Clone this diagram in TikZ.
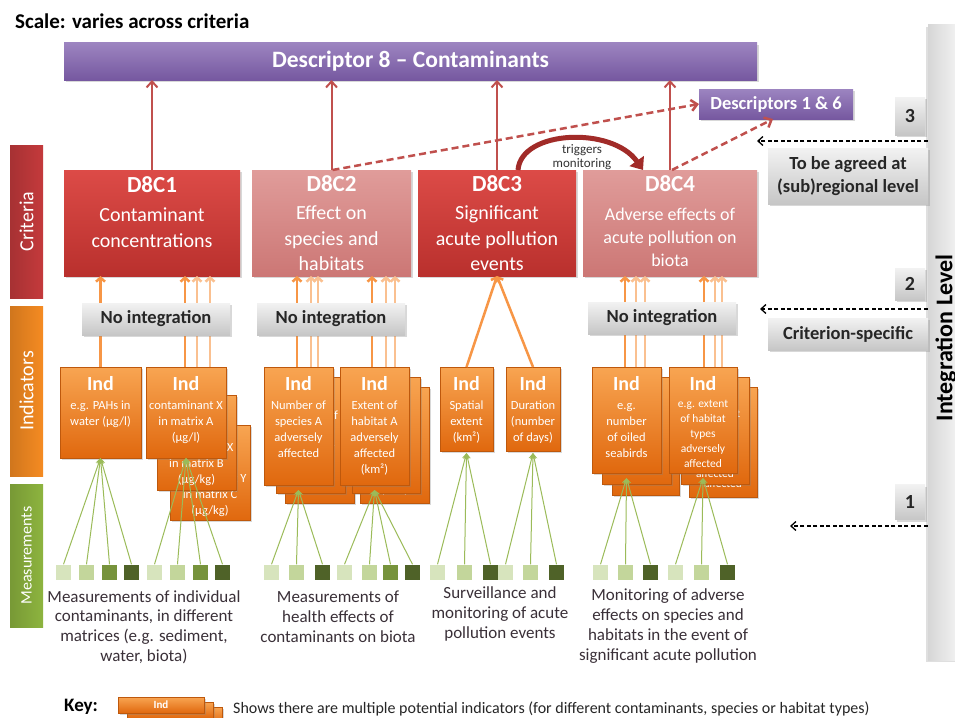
\documentclass[tikz,border=0pt]{standalone}
\usepackage{fontspec}
\setmainfont{Carlito}
\usetikzlibrary{arrows.meta,shadows,calc}
\definecolor{purpleT}{HTML}{9C84C0}
\definecolor{purpleB}{HTML}{7658A0}
\definecolor{redT}{HTML}{DC4B47}
\definecolor{redB}{HTML}{B9302D}
\definecolor{pinkT}{HTML}{E09C9A}
\definecolor{pinkB}{HTML}{CC7775}
\definecolor{orT}{HTML}{F8A552}
\definecolor{orB}{HTML}{E0680E}
\definecolor{grT}{HTML}{F2F2F2}
\definecolor{grB}{HTML}{C6C6C6}
\definecolor{arrRed}{HTML}{C0504D}
\definecolor{trigC}{HTML}{A12B28}
\definecolor{orLine}{HTML}{F79646}
\definecolor{orLight}{HTML}{FAC090}
\definecolor{gLine}{HTML}{9BBB59}
\definecolor{sqA}{HTML}{D7E4BD}
\definecolor{sqB}{HTML}{C3D69B}
\definecolor{sqC}{HTML}{77933C}
\definecolor{sqD}{HTML}{4F6228}
\definecolor{captC}{HTML}{3A3038}
\definecolor{barRed}{HTML}{C43A3C}
\definecolor{barOr}{HTML}{F58B22}
\definecolor{barGr}{HTML}{8DB43F}
\newcommand\critT{\bfseries\fontsize{23}{26}\selectfont}
\newcommand\indT{\bfseries\fontsize{20}{22}\selectfont}
\newcommand\backInd{{\indT\phantom{Ind}}}
% optional text options, name, x1, y1, x2, y2, text offset, text
\newcommand\IndBox[8][]{%
  \pgfmathsetmacro\indbw{#5-#3}%
  \pgfmathsetmacro\indbh{#6-#4}%
  \node[indbox, minimum width=\indbw pt, minimum height=\indbh pt, anchor=north west] (#2) at (#3,#4) {};
  \node[indtext, anchor=north, #1] (#2t) at ([yshift=-#7pt]#2.north) {#8};}
% style, from node, signed x offset, to node
\newcommand\UpArrow[4]{\draw[#1] let \p1=(#2.north), \p2=(#4.south) in (\x1#3pt,\y1) -- (\x1#3pt,\y2);}
\begin{document}
\begin{tikzpicture}[x=1pt,y=-1pt,
 box/.style={rectangle, inner sep=0pt, outer sep=0pt, drop shadow={shadow xshift=2pt, shadow yshift=-2pt, opacity=0.3}},
 purp/.style={box, top color=purpleT, bottom color=purpleB, text=white, font=\bfseries\fontsize{23.5}{26}\selectfont},
 critred/.style={box, top color=redT, bottom color=redB},
 critpink/.style={box, top color=pinkT, bottom color=pinkB},
 crittext/.style={text=white, align=center, inner sep=0pt, font=\fontsize{20}{25.5}\selectfont},
 graybox/.style={box, top color=grT, bottom color=grB, align=center, text=black!85, font=\bfseries\fontsize{18.5}{23}\selectfont},
 indbox/.style={box, top color=orT, bottom color=orB, draw=orB!85!black, line width=0.5pt},
 indtext/.style={text=white, align=center, inner sep=0pt, font=\fontsize{12.5}{16}\selectfont},
 sidebar/.style={rectangle, inner sep=0pt, outer sep=0pt},
 sidetext/.style={rotate=90, text=white, inner sep=0pt, font=\fontsize{20}{24}\selectfont},
 redarrow/.style={draw=arrRed, line width=2pt, -{Straight Barb[length=6pt,width=11pt]}},
 reddash/.style={redarrow, line width=2.5pt, dash pattern=on 7pt off 4pt},
 oarrow/.style={draw=orLine, line width=2.5pt, -{Straight Barb[length=4pt,width=9pt]}},
 olight/.style={oarrow, draw=orLight},
 garrow/.style={draw=gLine, line width=1pt, -{Stealth[length=6pt,width=6pt]}},
 levarrow/.style={draw=black, line width=1.3pt, dash pattern=on 4pt off 2.5pt, -{Straight Barb[length=5pt,width=9pt]}},
 msq/.style={rectangle, inner sep=0pt, minimum width=15pt, minimum height=15pt},
 capt/.style={text=captC, align=center, inner sep=0pt, font=\fontsize{17}{19.8}\selectfont}
]
\fill[white] (0,0) rectangle (955,717);
\useasboundingbox (0,0) rectangle (955,717);

\node[anchor=west, font=\bfseries\fontsize{21}{24}\selectfont, inner sep=0pt] (scale) at (15,21) {Scale: varies across criteria};

% integration level bar
\node[rectangle, inner sep=0pt, minimum width=32pt, minimum height=635pt, left color=gray!32, right color=gray!8, drop shadow={shadow xshift=-2pt, shadow yshift=-2pt, opacity=0.25}] (ilbar) at (944,342.5) {};
\node[rotate=90, font=\bfseries\fontsize{24}{28}\selectfont, inner sep=0pt] (iltext) at (946,338) {Integration Level};

% side bars
\node[sidebar, minimum width=33pt, minimum height=153pt, left color=barRed!85!black, right color=barRed] (sbC) at (26.5,221.5) {};
\node[sidetext] (sbCt) at (sbC) {Criteria};
\node[sidebar, minimum width=33pt, minimum height=170pt, left color=barOr!85!black, right color=barOr] (sbI) at (26.5,391) {};
\node[sidetext] (sbIt) at (sbI) {Indicators};
\node[sidebar, minimum width=33pt, minimum height=143pt, left color=barGr!85!black, right color=barGr] (sbM) at (26.5,555.5) {};
\node[sidetext, font=\fontsize{16}{18}\selectfont] (sbMt) at (sbM) {Measurements};

% descriptors
\node[purp, minimum width=693pt, minimum height=37pt] (d8) at (410.5,61.5) {Descriptor 8 – Contaminants};
\node[purp, minimum width=154pt, minimum height=30pt, font=\bfseries\fontsize{18.5}{22}\selectfont] (d16) at (776,104) {Descriptors 1 \& 6};

% criteria
\node[critred, minimum width=176pt, minimum height=106pt] (c1) at (152,223) {};
\node[crittext, anchor=north] (c1t) at ([yshift=-6pt]c1.north) {{\critT D8C1}\\[4pt]Contaminant\\concentrations};
\node[critpink, minimum width=159pt, minimum height=106pt] (c2) at (331.5,223) {};
\node[crittext, anchor=north] (c2t) at ([yshift=-5pt]c2.north) {{\critT D8C2}\\[3pt]Effect on\\species and\\habitats};
\node[critred, minimum width=158pt, minimum height=106pt] (c3) at (497,223) {};
\node[crittext, anchor=north] (c3t) at ([yshift=-5pt]c3.north) {{\critT D8C3}\\[3pt]Significant\\acute pollution\\events};
\node[critpink, minimum width=174pt, minimum height=106pt] (c4) at (670,223) {};
\node[crittext, anchor=north, font=\fontsize{18}{23}\selectfont] (c4t) at ([yshift=-5pt]c4.north) {{\critT D8C4}\\[6pt]Adverse effects of\\acute pollution on\\biota};

% criteria -> descriptors
\foreach \c in {c1,c2,c3,c4} \draw[redarrow] (\c.north) -- (\c.north |- d8.south);
\draw[reddash] ([xshift=1pt]c2.north) -- (d16.west);
\draw[reddash] ([xshift=2pt]c4.north) -- ([xshift=-3pt]d16.south);
\draw[trigC, line width=5pt, -{Triangle[length=11pt,width=17pt]}] ([xshift=21pt]c3.north) .. controls (521,130) and (612,126) .. ([xshift=-27pt]c4.north);
\node[font=\fontsize{13}{14}\selectfont, text=black!80, align=center, inner sep=0pt] (trigtext) at (582,157) {triggers\\monitoring};

% indicators
\IndBox{i1}{60}{367}{141}{458}{9}{{\indT Ind}\\[3pt]e.g. PAHs in\\water (µg/l)}
\IndBox{i2c}{170}{425}{250}{520}{24}{\backInd\\[3pt]contaminant Y\\in matrix C\\(µg/kg)}
\IndBox{i2b}{157}{395}{236}{490}{23}{\backInd\\[3pt]contaminant X\\in matrix B\\(µg/kg)}
\IndBox{i2}{146}{367}{226}{458}{9}{{\indT Ind}\\[3pt]contaminant X\\in matrix A\\(µg/l)}
\IndBox{i3c}{285}{387}{354}{503}{9}{\backInd\\[3pt]Number of\\species C\\adversely\\affected}
\IndBox{i3b}{276}{377}{345}{493}{9}{\backInd\\[3pt]Number of\\species B\\adversely\\affected}
\IndBox{i3}{264}{367}{333}{485}{9}{{\indT Ind}\\[3pt]Number of\\species A\\adversely\\affected}
\IndBox{i4c}{360}{387}{429}{503}{9}{\backInd\\[3pt]Extent of\\habitat C\\adversely\\affected\\(km²)}
\IndBox{i4b}{352}{377}{420}{493}{9}{\backInd\\[3pt]Extent of\\habitat B\\adversely\\affected\\(km²)}
\IndBox{i4}{340}{367}{409}{485}{9}{{\indT Ind}\\[3pt]Extent of\\habitat A\\adversely\\affected\\(km²)}
\IndBox{i5}{440}{367}{493}{451}{9}{{\indT Ind}\\[3pt]Spatial\\extent\\(km²)}
\IndBox{i6}{506}{367}{560}{451}{9}{{\indT Ind}\\[3pt]Duration\\(number\\of days)}
\IndBox{i7c}{612}{387}{679}{495}{9}{\backInd\\[3pt]e.g.\\number\\of oiled\\seabirds}
\IndBox{i7b}{602}{377}{671}{484}{9}{\backInd\\[3pt]e.g.\\number\\of oiled\\seabirds}
\IndBox{i7}{592}{367}{661}{473}{9}{{\indT Ind}\\[3pt]e.g.\\number\\of oiled\\seabirds}
\IndBox[font=\fontsize{11.5}{15}\selectfont]{i8c}{689}{387}{757}{497}{9}{\backInd\\[2.5pt]e.g. extent\\of habitat\\types\\adversely\\affected}
\IndBox[font=\fontsize{11.5}{15}\selectfont]{i8b}{681}{377}{749}{484}{9}{\backInd\\[2.5pt]e.g. extent\\of habitat\\types\\adversely\\affected}
\IndBox[font=\fontsize{11.5}{15}\selectfont]{i8}{669}{367}{737}{473}{9}{{\indT Ind}\\[2.5pt]e.g. extent\\of habitat\\types\\adversely\\affected}

% indicators -> criteria
\UpArrow{oarrow}{i1}{+0}{c1}
\UpArrow{oarrow}{i2}{-1}{c1}
\UpArrow{olight}{i2}{+11}{c1}
\UpArrow{olight}{i2}{+24}{c1}
\UpArrow{oarrow}{i3}{-1.5}{c2}
\UpArrow{olight}{i3}{+12.5}{c2}
\UpArrow{olight}{i3}{+19.5}{c2}
\UpArrow{oarrow}{i4}{-2.5}{c2}
\UpArrow{olight}{i4}{+11.5}{c2}
\UpArrow{olight}{i4}{+20.5}{c2}
\draw[oarrow] (i5.north) -- (c3.south);
\draw[oarrow] (i6.north) -- (c3.south);
\UpArrow{oarrow}{i7}{-1.5}{c4}
\UpArrow{olight}{i7}{+9.5}{c4}
\UpArrow{olight}{i7}{+18.5}{c4}
\UpArrow{oarrow}{i8}{+1}{c4}
\UpArrow{olight}{i8}{+12}{c4}
\UpArrow{olight}{i8}{+19}{c4}

% no integration boxes
\node[graybox, minimum width=148pt, minimum height=32pt] (n1) at (156,319) {No integration};
\node[graybox, minimum width=148pt, minimum height=32pt] (n2) at (331,319) {No integration};
\node[graybox, minimum width=148pt, minimum height=32pt] (n3) at (662,318) {No integration};

% level boxes
\node[graybox, minimum width=30pt, minimum height=38pt, font=\bfseries\fontsize{20}{24}\selectfont] (L3) at (910,116) {3};
\node[graybox, minimum width=30pt, minimum height=32pt, font=\bfseries\fontsize{20}{24}\selectfont] (L2) at (910,284) {2};
\node[graybox, minimum width=30pt, minimum height=35pt, font=\bfseries\fontsize{20}{24}\selectfont] (L1) at (910,502) {1};
\node[graybox, minimum width=160pt, minimum height=56pt] (agreed) at (848,176) {To be agreed at\\(sub)regional level};
\node[graybox, minimum width=160pt, minimum height=32pt] (critsp) at (848,334) {Criterion-specific};
\coordinate (h3) at (757,141);
\coordinate (h2) at (760,309);
\coordinate (h1) at (790,526);
\draw[levarrow] (ilbar.west |- h3) -- (h3);
\draw[levarrow] (ilbar.west |- h2) -- (h2);
\draw[levarrow] (ilbar.west |- h1) -- (h1);

% measurement squares
\foreach \i/\x/\c in {1/56/sqA,2/79/sqB,3/102/sqC,4/124/sqD,5/147/sqA,6/170/sqB,7/193/sqC,8/215/sqD,
  9/264/sqA,10/289/sqB,11/315/sqD,12/337/sqA,13/362/sqB,14/383/sqC,15/405/sqD,
  16/430/sqA,17/457/sqB,18/483/sqD,19/498/sqA,20/523/sqB,21/549/sqD,
  22/593/sqA,23/618/sqB,24/643/sqD,25/668/sqA,26/694/sqB,27/720/sqD}
  \node[msq, fill=\c] (m\i) at (\x+7.5,572) {};

% measurements -> indicators
\foreach \m in {1,2,3,4} \draw[garrow] (m\m.north) -- (i1.south);
\foreach \m in {5,6,7,8} \draw[garrow] (m\m.north) -- (i2.south);
\foreach \m in {9,10,11} \draw[garrow] (m\m.north) -- ([yshift=-5pt]i3.south);
\foreach \m in {12,13,14,15} \draw[garrow] (m\m.north) -- ([yshift=-5pt]i4.south);
\foreach \m in {16,17,18} \draw[garrow] (m\m.north) -- ([yshift=-2pt]i5.south);
\foreach \m in {19,20,21} \draw[garrow] (m\m.north) -- ([yshift=-2pt]i6.south);
\foreach \m in {22,23,24} \draw[garrow] (m\m.north) -- ([yshift=-5pt]i7.south);
\foreach \m in {25,26,27} \draw[garrow] (m\m.north) -- ([yshift=-5pt]i8.south);

% captions
\node[capt] (cap1) at (144,627) {Measurements of individual\\contaminants, in different\\matrices (e.g. sediment,\\water, biota)};
\node[capt] (cap2) at (338,617) {Measurements of\\health effects of\\contaminants on biota};
\node[capt] (cap3) at (500,614) {Surveillance and\\monitoring of acute\\pollution events};
\node[capt] (cap4) at (668,626) {Monitoring of adverse\\effects on species and\\habitats in the event of\\significant acute pollution};

% key
\node[anchor=west, font=\bfseries\fontsize{19}{22}\selectfont, inner sep=0pt] (key) at (64,707) {Key:};
\node[indbox, anchor=north west, minimum width=86pt, minimum height=16pt] (kc) at (136,707) {};
\node[indbox, anchor=north west, minimum width=86pt, minimum height=16pt] (kb) at (127,702) {};
\node[indbox, anchor=north west, minimum width=86pt, minimum height=16pt, text=white, font=\bfseries\fontsize{11}{12}\selectfont] (ka) at (118,697) {Ind};
\node[anchor=west, inner sep=0pt, font=\fontsize{16}{18}\selectfont, text=black!85] (keytext) at (233,709) {Shows there are multiple potential indicators (for different contaminants, species or habitat types)};
\end{tikzpicture}
\end{document}
